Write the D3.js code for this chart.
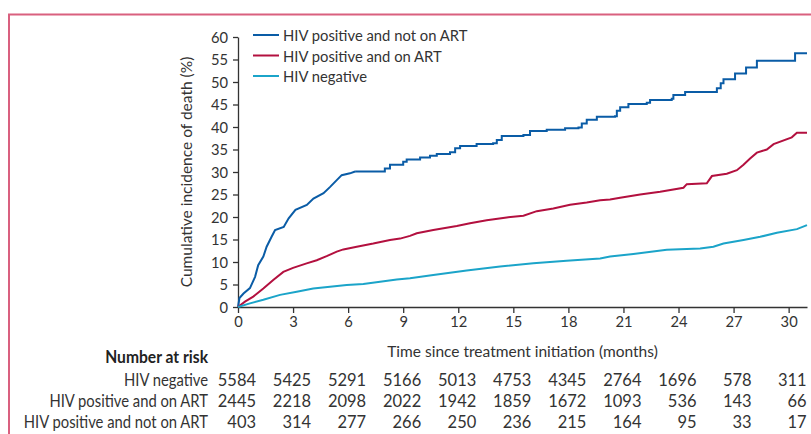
<!DOCTYPE html>
<html><head><meta charset="utf-8">
<script src="https://cdn.jsdelivr.net/npm/d3@7"></script>
<style>
body{margin:0;background:#fff;}
svg{display:block;}
text{font-family:Lato,"Open Sans",sans-serif;}
</style></head>
<body>
<svg id="c" width="811" height="434"></svg>
<script>
// ---- data ----
const seriesNames = ["HIV positive and not on ART", "HIV positive and on ART", "HIV negative"];
const seriesColors = ["#0a5ca6", "#b3103f", "#1ba4c9"];

const notOnArtT = [0,0.08,0.3,0.65,0.93,1.1,1.38,1.56,1.83,2.02,2.49,2.76,3.13,3.75,4.11,4.66,5.02,5.38,5.65,6.1,6.38,8.0,8.28,9.0,9.19,9.92,10.46,10.83,11.55,11.83,12.1,13.0,13.9,14.1,14.37,15.55,15.91,16.82,17.82,18.55,18.73,19.0,19.55,20.54,20.64,20.82,21.27,22.27,22.45,23.63,23.72,24.36,26.09,26.3,26.45,27.08,27.68,28.27,30.35,31.0];
const notOnArtV = [0,2.0,3.0,4.2,6.7,9.3,11.2,13.4,15.6,17.1,17.8,19.7,21.6,22.7,24.1,25.3,26.7,28.2,29.3,29.7,30.1,30.8,31.6,32.3,32.8,33.2,33.6,34.0,34.4,35.3,35.8,36.2,36.4,37.1,38.0,38.2,39.1,39.4,39.7,39.9,40.8,41.6,42.3,42.4,43.6,44.4,45.1,45.4,46.0,46.3,47.1,47.8,48.6,49.7,50.6,51.9,53.2,54.7,56.4,56.4];

const onArtT = [0,0.38,0.83,1.38,1.92,2.47,3.0,3.74,4.29,4.83,5.38,5.74,6.47,7.37,8.28,8.83,9.37,9.74,10.64,11.92,12.64,13.55,14.64,15.55,16.28,17.18,18.09,19.0,19.73,20.27,20.82,21.91,23.0,24.27,24.45,25.54,25.82,26.63,27.18,27.54,27.9,28.27,28.81,29.18,30.17,30.45,31.0];
const onArtV = [0,1.2,2.3,4.1,6.0,7.8,8.7,9.7,10.4,11.3,12.3,12.8,13.4,14.1,14.9,15.2,15.8,16.4,17.1,18.0,18.6,19.3,19.9,20.3,21.3,21.9,22.7,23.2,23.7,23.9,24.3,25.0,25.6,26.5,27.3,27.5,29.1,29.6,30.4,31.6,33.0,34.3,35.0,36.2,37.7,38.7,38.7];

const negT = [0,0.65,1.38,2.29,3.2,4.1,5.01,5.92,6.83,7.74,8.65,9.37,10.64,12.46,14.28,16.09,17.9,19.73,20.27,21.54,23.36,25.18,25.9,26.45,27.54,28.45,29.36,30.45,31.0];
const negV = [0,0.8,1.6,2.7,3.4,4.1,4.5,4.9,5.1,5.6,6.1,6.4,7.1,8.1,9.0,9.7,10.3,10.8,11.2,11.8,12.7,13.0,13.4,14.1,14.9,15.6,16.5,17.3,18.2];

const xTicks = [0,3,6,9,12,15,18,21,24,27,30];
const yTicks = [0,5,10,15,20,25,30,35,40,45,50,55,60];

const riskLabels = ["HIV negative", "HIV positive and on ART", "HIV positive and not on ART"];
const riskNeg = [5584,5425,5291,5166,5013,4753,4345,2764,1696,578,311];
const riskOnArt = [2445,2218,2098,2022,1942,1859,1672,1093,536,143,66];
const riskNotOnArt = [403,314,277,266,250,236,215,164,95,33,17];

// ---- drawing ----
const svg = d3.select("#c");
const x = d3.scaleLinear().domain([0,31]).range([238,807]);
const y = d3.scaleLinear().domain([0,60]).range([307,37]);
const ink = "#333";

function addText(px, py, str, opts){
  const o = Object.assign({size:16, sx:1, anchor:"start", weight:"normal", rot:0}, opts||{});
  return svg.append("text")
    .attr("transform", `translate(${px},${py}) rotate(${o.rot}) scale(${o.sx},1)`)
    .attr("text-anchor", o.anchor).attr("font-size", o.size)
    .attr("font-weight", o.weight).attr("fill", o.fill || ink).text(str);
}

// frame
svg.append("path").attr("d","M9,434 L9,14.5 L811,14.5").attr("fill","none")
  .attr("stroke","#d9607f").attr("stroke-width",2);

// y axis
const gy = svg.append("g").attr("transform","translate(238,0)")
  .call(d3.axisLeft(y).tickValues(yTicks).tickSize(5).tickPadding(4).tickSizeOuter(0));
gy.select(".domain").attr("stroke",ink).attr("stroke-width",1.3);
gy.selectAll(".tick line").attr("stroke",ink).attr("stroke-width",1.3);
gy.selectAll(".tick text").attr("font-family","Lato").attr("font-size",16).attr("fill",ink)
  .attr("transform","scale(0.92,1)").attr("x",-10/0.92);

// x axis
const gx = svg.append("g").attr("transform","translate(0,307)")
  .call(d3.axisBottom(x).tickValues(xTicks).tickSize(6).tickPadding(3).tickSizeOuter(0));
gx.select(".domain").attr("stroke",ink).attr("stroke-width",1.3);
gx.selectAll(".tick line").attr("stroke",ink).attr("stroke-width",1.3);
gx.selectAll(".tick text").attr("font-family","Lato").attr("font-size",16).attr("fill",ink)
  .attr("transform","scale(0.92,1)");

// axis titles
addText((x.range()[0]+x.range()[1])/2, 357, "Time since treatment initiation (months)", {anchor:"middle", sx:0.97});
addText(192, 172, "Cumulative incidence of death (%)", {anchor:"middle", rot:-90, sx:0.97});

// curves
const bluePts = d3.zip(notOnArtT, notOnArtV);
const splitIdx = notOnArtT.indexOf(6.38);
const pieces = [
  {d: bluePts.slice(0, splitIdx+1), c: seriesColors[0], curve: d3.curveLinear},
  {d: bluePts.slice(splitIdx), c: seriesColors[0], curve: d3.curveStepAfter},
  {d: d3.zip(onArtT, onArtV), c: seriesColors[1], curve: d3.curveLinear},
  {d: d3.zip(negT, negV), c: seriesColors[2], curve: d3.curveLinear}
];
pieces.forEach(p=>{
  const line = d3.line().x(q=>x(q[0])).y(q=>y(q[1])).curve(p.curve);
  svg.append("path").datum(p.d).attr("d",line).attr("fill","none")
    .attr("stroke",p.c).attr("stroke-width",2).attr("stroke-linejoin","miter");
});

// legend
seriesNames.forEach((n,i)=>{
  const ly = 35 + i*20.5;
  svg.append("line").attr("x1",253).attr("x2",279).attr("y1",ly).attr("y2",ly)
    .attr("stroke",seriesColors[i]).attr("stroke-width",2);
  addText(283, ly+6, n, {sx:0.925});
});

// number at risk
addText(208, 363, "Number at risk", {anchor:"end", weight:"bold", size:17, sx:0.92, fill:"#222"});
const riskRows = [riskNeg, riskOnArt, riskNotOnArt];
riskRows.forEach((row,r)=>{
  const ry = 386 + r*21;
  addText(208, ry, riskLabels[r], {anchor:"end", size:17, sx:0.87});
  row.forEach((v,j)=>{
    addText(x(xTicks[j])+18, ry, v, {anchor:"end", size:17, sx:0.97});
  });
});
</script>
</body></html>
